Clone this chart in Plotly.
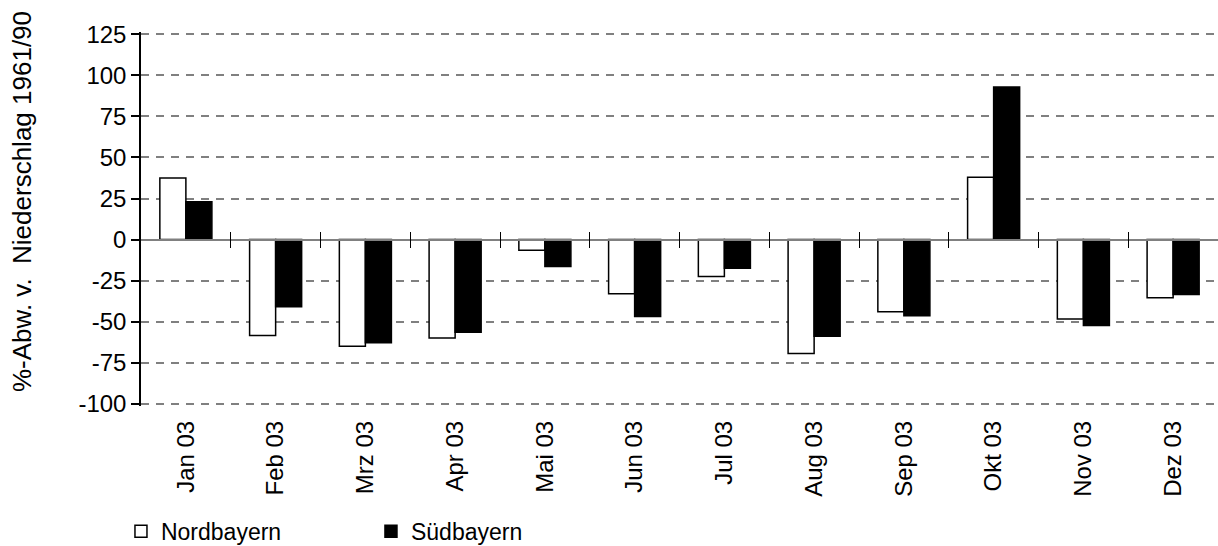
import plotly.graph_objects as go

months = ["Jan 03", "Feb 03", "Mrz 03", "Apr 03", "Mai 03", "Jun 03",
          "Jul 03", "Aug 03", "Sep 03", "Okt 03", "Nov 03", "Dez 03"]
nordbayern = [37.5, -58.5, -65, -60, -6.5, -33, -22.5, -69.5, -44, 38, -48.5, -35.5]
suedbayern = [23, -41, -63, -56.5, -16.5, -47, -17.5, -59, -46.5, 93, -52.5, -33.5]
y_ticks = [-100, -75, -50, -25, 0, 25, 50, 75, 100, 125]
y_tick_labels = ["-100", "-75", "-50", "-25", "0", "25", "50", "75", "100", "125"]
y_title = "%-Abw. v.  Niederschlag 1961/90"
boundaries = [i + 0.5 for i in range(len(months) - 1)]

FONT = "Liberation Sans, Arial, sans-serif"
ymin, ymax = -101.5, 126.5
zero_pos = (0 - ymin) / (ymax - ymin)

fig = go.Figure()
fig.add_trace(go.Bar(x=months, y=nordbayern, name="Nordbayern",
                     marker=dict(color="white", line=dict(color="black", width=1.5))))
fig.add_trace(go.Bar(x=months, y=suedbayern, name="Südbayern",
                     marker=dict(color="black", line=dict(color="black", width=1.5))))
# invisible helper traces that activate the tick axes drawn on the zero line
fig.add_trace(go.Scatter(x=boundaries, y=[0] * len(boundaries), xaxis="x2", mode="markers",
                         marker=dict(opacity=0), showlegend=False, hoverinfo="skip"))
fig.add_trace(go.Scatter(x=boundaries, y=[0] * len(boundaries), xaxis="x3", mode="markers",
                         marker=dict(opacity=0), showlegend=False, hoverinfo="skip"))

fig.update_layout(
    width=1218, height=546,
    margin=dict(l=141, r=0, t=32, b=140, autoexpand=False),
    paper_bgcolor="white", plot_bgcolor="white",
    font=dict(family=FONT, size=24, color="black"),
    barmode="group", bargap=0.42, bargroupgap=0,
    showlegend=True,
    legend=dict(orientation="h", x=-0.0186, xanchor="left", y=-0.335, yanchor="middle",
                font=dict(family=FONT, size=23, color="black"),
                entrywidth=205, entrywidthmode="pixels", itemwidth=30,
                traceorder="normal", bgcolor="rgba(0,0,0,0)"),
    xaxis=dict(type="category", range=[-0.5, 11.5], tickangle=-90, ticks="",
               showgrid=False, showline=False, zeroline=False, automargin=False,
               ticklabelstandoff=9, tickfont=dict(family=FONT, size=24)),
    xaxis2=dict(overlaying="x", anchor="free", position=zero_pos, range=[-0.5, 11.5],
                tickvals=boundaries, ticks="outside", ticklen=8, tickcolor="black",
                tickwidth=1, showticklabels=False, showgrid=False, zeroline=False,
                showline=True, linecolor="#808080", linewidth=1.5, automargin=False),
    xaxis3=dict(overlaying="x", anchor="free", position=zero_pos, range=[-0.5, 11.5],
                tickvals=boundaries, ticks="inside", ticklen=8, tickcolor="black",
                tickwidth=1, showticklabels=False, showgrid=False, zeroline=False,
                showline=False, automargin=False),
    yaxis=dict(range=[ymin, ymax], tickvals=y_ticks, ticktext=y_tick_labels,
               ticks="outside", ticklen=8, automargin=False,
               tickcolor="black", tickwidth=1.5, showline=True, linecolor="black",
               linewidth=1.5, showgrid=True, gridcolor="#808080", gridwidth=1.5,
               griddash="8px,7px", zeroline=False,
               tickfont=dict(family=FONT, size=24)),
    annotations=[dict(text=y_title, textangle=-90, xref="paper", yref="paper",
                      x=-0.1105, y=0.548, xanchor="center", yanchor="middle",
                      showarrow=False, font=dict(family=FONT, size=26, color="black"))],
)

fig.write_html("out.html", config={"displayModeBar": False},
               post_script="document.body.style.margin='0';document.body.style.overflow='hidden';")
